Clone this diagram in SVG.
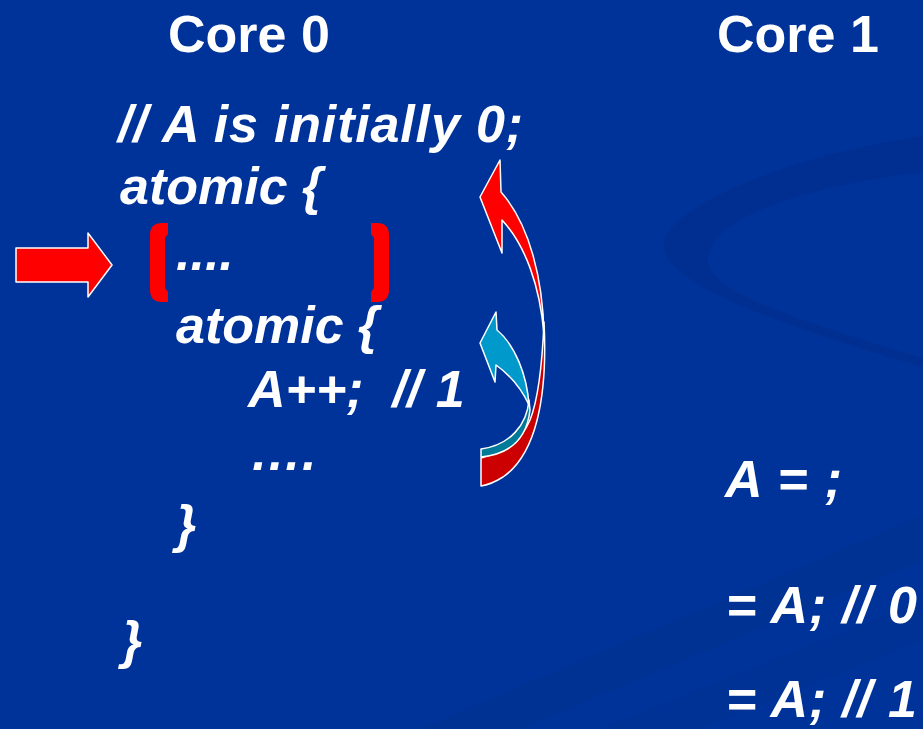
<svg xmlns="http://www.w3.org/2000/svg" width="923" height="729" viewBox="0 0 923 729">
<style>
.t{font-family:"Liberation Sans",Arial,sans-serif;font-size:52px;font-weight:bold;fill:#ffffff}
.c{font-style:italic}
.sh{stroke:#ffffff;stroke-width:1.5;stroke-linejoin:round}
</style>
<rect width="923" height="729" fill="#003399"/>
<g id="background-deco">
<path d="M923,136 C820,150 700,190 668,232 C648,262 690,300 923,367 L923,358 C760,310 705,285 708,257 C715,212 820,185 923,172 Z" fill="#002f8f" opacity="0.75"/>
<path d="M420,729 L923,515 L923,560 L520,729 Z" fill="#00308f" opacity="0.45"/>
<path d="M600,729 L923,600 L923,640 L700,729 Z" fill="#00308f" opacity="0.35"/>
</g>
<g id="core0-title"><text class="t" x="168" y="52">Core 0</text></g>
<g id="core1-title"><text class="t" x="717" y="52">Core 1</text></g>
<g id="core0-code">
<text class="t c" x="118" y="142" textLength="405" lengthAdjust="spacing">// A is initially 0;</text>
<text class="t c" x="120" y="204">atomic {</text>
<text class="t c" x="176" y="270">....</text>
<text class="t c" x="176" y="343">atomic {</text>
<text class="t c" x="248" y="407" xml:space="preserve">A++;  // 1</text>
<text class="t c" x="250" y="470">….</text>
<text class="t c" x="176" y="542">}</text>
<text class="t c" x="122" y="658">}</text>
</g>
<g id="core1-code">
<text class="t c" x="725" y="497" textLength="117" lengthAdjust="spacing">A = ;</text>
<text class="t c" x="726" y="623" textLength="191" lengthAdjust="spacing">= A; // 0</text>
<text class="t c" x="726" y="717" textLength="191" lengthAdjust="spacing">= A; // 1</text>
</g>
<g id="brackets">
<path d="M168,223 L162,223 Q150,223 150,235 L150,290 Q150,302 162,302 L168,302 L168,292 L165,288 L165,238 L168,234 Z" fill="#ff0000"/>
<path d="M371,223 L377,223 Q389,223 389,235 L389,290 Q389,302 377,302 L371,302 L371,292 L374,288 L374,238 L371,234 Z" fill="#ff0000"/>
</g>
<g id="connectors">
<path class="sh" d="M16,248 L88,248 L88,233 L112,265 L88,297 L88,282 L16,282 Z" fill="#ff0000"/>
<path class="sh" d="M544,322 C548,400 535,455 503,477 C495,482 488,485 481,486 L481,458 C505,452 522,440 530,420 C538,400 542,370 544,322 Z" fill="#cc0000"/>
<path class="sh" d="M502,253 L502,220 C525,245 540,285 544,335 C543,280 530,225 501,192 L500,160 L480,197 Z" fill="#ff0000"/>
<path class="sh" d="M529,400 C527,425 510,445 481,449 L481,457 C512,454 527,437 530,410 Z" fill="#007a99"/>
<path class="sh" d="M495,382 L496,365 C510,375 522,390 529,405 C527,375 515,345 497,330 L496,312 L480,343 Z" fill="#0099cc"/>
</g>
</svg>
